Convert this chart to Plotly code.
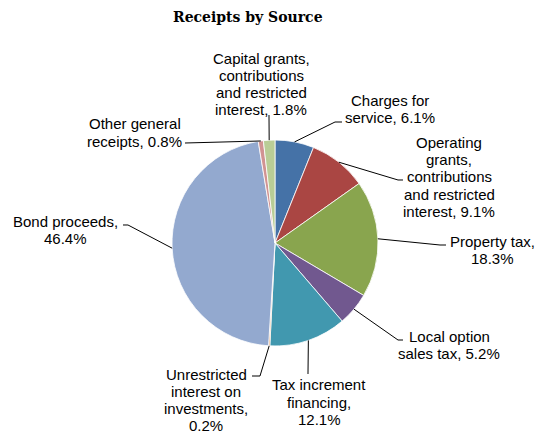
import math
import plotly.graph_objects as go

W, H = 535, 435

labels = [
    "Charges for service",
    "Operating grants, contributions and restricted interest",
    "Property tax",
    "Local option sales tax",
    "Tax increment financing",
    "Unrestricted interest on investments",
    "Bond proceeds",
    "Other general receipts",
    "Capital grants, contributions and restricted interest",
]
values = [6.1, 9.1, 18.3, 5.2, 12.1, 0.2, 46.4, 0.8, 1.8]
label_lines = [
    ["Charges for", "service, 6.1%"],
    ["Operating", "grants,", "contributions", "and restricted", "interest, 9.1%"],
    ["Property tax,", "18.3%"],
    ["Local option", "sales tax, 5.2%"],
    ["Tax increment", "financing,", "12.1%"],
    ["Unrestricted", "interest on", "investments,", "0.2%"],
    ["Bond proceeds,", "46.4%"],
    ["Other general", "receipts, 0.8%"],
    ["Capital grants,", "contributions", "and restricted", "interest, 1.8%"],
]
colors = ["#4572A7", "#AA4643", "#89A54E", "#71588F", "#4198AF",
          "#DB843D", "#93A9CF", "#D19392", "#B9CD96"]

# layout (pixels): pie centre / radius, label centres, leader elbows
CX, CY, R = 275, 243, 103
LINE_H = 17.3
label_pos = [(390, 109), (449, 177), (492, 250), (449, 345), (319, 402),
             (206, 400), (65, 230), (135, 132.5), (261, 84)]
elbows = [
    [(335, 122), (342, 122)],
    [(398, 180), (403, 180)],
    [(440, 245), (446, 245)],
    [(398, 340), (403, 340)],
    [(308, 374)],
    [(260, 376), (252, 376)],
    [(128, 225), (123, 225)],
    [(185, 143)],
    [(269, 115)],
]

def px(x):
    return x / W

def py(y):
    return 1 - y / H

fig = go.Figure()
fig.add_trace(go.Pie(
    labels=labels, values=values, sort=False, direction="clockwise",
    rotation=0, textinfo="none", hoverinfo="label+percent",
    marker=dict(colors=colors, line=dict(color="white", width=0.8)),
    domain=dict(x=[px(CX - R), px(CX + R)], y=[py(CY + R), py(CY - R)]),
    showlegend=False,
))

total = sum(values)
cum = 0.0
shapes = []
annotations = []
for i, v in enumerate(values):
    mid = (cum + v / 2) / total * 2 * math.pi
    cum += v
    ax = CX + R * math.sin(mid)
    ay = CY - R * math.cos(mid)
    pts = [(ax, ay)] + elbows[i]
    path = "M " + " L ".join(f"{px(x):.5f},{py(y):.5f}" for x, y in pts)
    shapes.append(dict(type="path", xref="paper", yref="paper", path=path,
                       line=dict(color="black", width=1)))
    lx, ly = label_pos[i]
    n = len(label_lines[i])
    for k, line in enumerate(label_lines[i]):
        yy = ly + (k - (n - 1) / 2) * LINE_H
        annotations.append(dict(
            x=px(lx), y=py(yy), xref="paper", yref="paper", text=line,
            showarrow=False, xanchor="center", yanchor="middle", align="center",
            font=dict(family="Liberation Sans, Arial", size=15, color="#000000"),
        ))

annotations.append(dict(
    x=px(247.5), y=py(17), xref="paper", yref="paper",
    text="<b>Receipts by Source</b>", showarrow=False,
    xanchor="center", yanchor="middle",
    font=dict(family="DejaVu Serif", size=14, color="#000000"),
))

fig.update_layout(
    width=W, height=H, margin=dict(l=0, r=0, t=0, b=0),
    paper_bgcolor="white", plot_bgcolor="white",
    shapes=shapes, annotations=annotations,
)

fig.write_html("out.html")
